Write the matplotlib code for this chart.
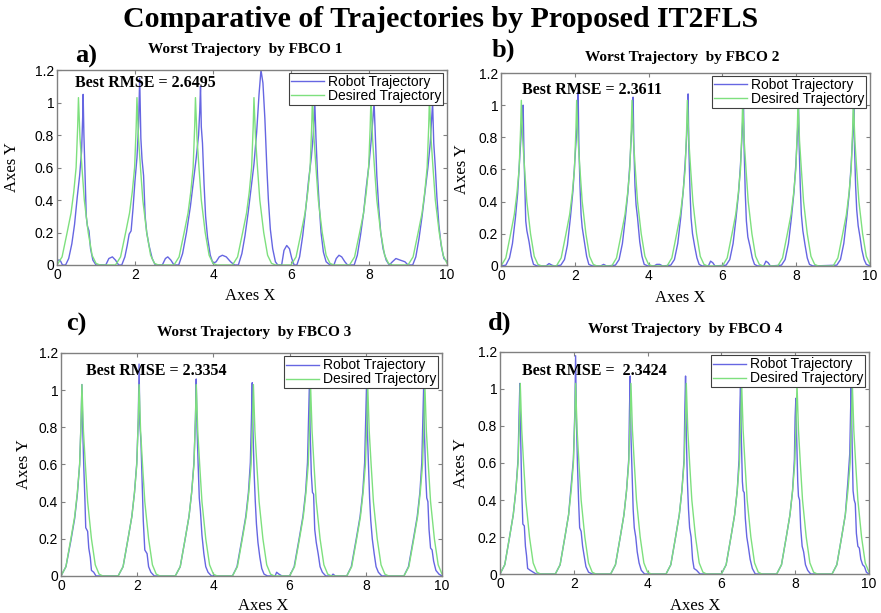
import numpy as np
import matplotlib
matplotlib.use('Agg')
from matplotlib import pyplot as plt
from matplotlib.ticker import FuncFormatter

SERIF = 'Liberation Serif'
SANS = 'Liberation Sans'

MAIN_TITLE = 'Comparative of Trajectories by Proposed IT2FLS'
LETTERS = ['a)', 'b)', 'c)', 'd)']
PANEL_TITLES = ['Worst Trajectory  by FBCO 1', 'Worst Trajectory  by FBCO 2',
                'Worst Trajectory  by FBCO 3', 'Worst Trajectory  by FBCO 4']
RMSE_LABELS = ['Best RMSE = 2.6495', 'Best RMSE = 2.3611',
               'Best RMSE = 2.3354', 'Best RMSE =  2.3424']
LEGEND_LABELS = ['Robot Trajectory', 'Desired Trajectory']
X_TICKS = [0, 2, 4, 6, 8, 10]
Y_TICKS = [0, 0.2, 0.4, 0.6, 0.8, 1.0, 1.2]

# desired trajectory (same in all four panels)
DESIRED = [
    (0.00, 0.00), (0.13, 0.05), (0.26, 0.20), (0.36, 0.32), (0.43, 0.45), (0.49, 0.60), (0.53, 0.85),
    (0.55, 1.03), (0.59, 0.78), (0.64, 0.60), (0.70, 0.40), (0.80, 0.20), (0.90, 0.06), (1.00, 0.01), (1.10, 0.00),
    (1.50, 0.00), (1.63, 0.05), (1.76, 0.20), (1.86, 0.32), (1.93, 0.45), (1.99, 0.60), (2.03, 0.85),
    (2.05, 1.03), (2.09, 0.78), (2.14, 0.60), (2.20, 0.40), (2.30, 0.20), (2.40, 0.06), (2.50, 0.01), (2.60, 0.00),
    (3.00, 0.00), (3.13, 0.05), (3.26, 0.20), (3.36, 0.32), (3.43, 0.45), (3.49, 0.60), (3.53, 0.85),
    (3.55, 1.03), (3.59, 0.78), (3.64, 0.60), (3.70, 0.40), (3.80, 0.20), (3.90, 0.06), (4.00, 0.01), (4.10, 0.00),
    (4.50, 0.00), (4.63, 0.05), (4.76, 0.20), (4.86, 0.32), (4.93, 0.45), (4.99, 0.60), (5.03, 0.85),
    (5.05, 1.03), (5.09, 0.78), (5.14, 0.60), (5.20, 0.40), (5.30, 0.20), (5.40, 0.06), (5.50, 0.01), (5.60, 0.00),
    (6.00, 0.00), (6.13, 0.05), (6.26, 0.20), (6.36, 0.32), (6.43, 0.45), (6.49, 0.60), (6.53, 0.85),
    (6.55, 1.03), (6.59, 0.78), (6.64, 0.60), (6.70, 0.40), (6.80, 0.20), (6.90, 0.06), (7.00, 0.01), (7.10, 0.00),
    (7.50, 0.00), (7.63, 0.05), (7.76, 0.20), (7.86, 0.32), (7.93, 0.45), (7.99, 0.60), (8.03, 0.85),
    (8.05, 1.03), (8.09, 0.78), (8.14, 0.60), (8.20, 0.40), (8.30, 0.20), (8.40, 0.06), (8.50, 0.01), (8.60, 0.00),
    (9.00, 0.00), (9.13, 0.05), (9.26, 0.20), (9.36, 0.32), (9.43, 0.45), (9.49, 0.60), (9.53, 0.85),
    (9.55, 1.03), (9.59, 0.78), (9.64, 0.60), (9.70, 0.40), (9.80, 0.20), (9.90, 0.06), (10.00, 0.01), (10.10, 0.00),
]

ROBOT_A = [
    (0.00, 0.03), (0.08, 0.03), (0.14, 0.00), (0.22, 0.00), (0.30, 0.04), (0.38, 0.13), (0.45, 0.25),
    (0.52, 0.42), (0.58, 0.55), (0.63, 0.70), (0.66, 0.92), (0.67, 1.05), (0.69, 0.80), (0.72, 0.55),
    (0.75, 0.30), (0.78, 0.24), (0.82, 0.21), (0.86, 0.10), (0.92, 0.03), (1.00, 0.00), (1.25, 0.00),
    (1.33, 0.04), (1.42, 0.05), (1.50, 0.03), (1.58, 0.00), (1.66, 0.00), (1.74, 0.05), (1.80, 0.12),
    (1.85, 0.19), (1.90, 0.21), (1.95, 0.35), (2.00, 0.52), (2.05, 0.66), (2.09, 0.85), (2.12, 1.15),
    (2.15, 0.78), (2.18, 0.65), (2.22, 0.55), (2.26, 0.30), (2.30, 0.20), (2.36, 0.12), (2.44, 0.04),
    (2.52, 0.00), (2.70, 0.00), (2.78, 0.04), (2.84, 0.05), (2.92, 0.03), (3.00, 0.00), (3.12, 0.00),
    (3.22, 0.07), (3.32, 0.20), (3.42, 0.36), (3.50, 0.52), (3.57, 0.66), (3.63, 0.80), (3.66, 0.95),
    (3.68, 1.10), (3.70, 0.85), (3.73, 0.75), (3.77, 0.50), (3.81, 0.30), (3.86, 0.17), (3.93, 0.06),
    (4.00, 0.01), (4.08, 0.02), (4.16, 0.05), (4.24, 0.06), (4.34, 0.05), (4.45, 0.02), (4.55, 0.00),
    (4.65, 0.00), (4.74, 0.07), (4.82, 0.18), (4.90, 0.32), (4.98, 0.48), (5.05, 0.62), (5.12, 0.82),
    (5.18, 1.05), (5.23, 1.20), (5.28, 1.12), (5.33, 0.90), (5.38, 0.60), (5.42, 0.40), (5.47, 0.22),
    (5.53, 0.10), (5.60, 0.02), (5.66, 0.00), (5.76, 0.00), (5.82, 0.09), (5.89, 0.12), (5.96, 0.10),
    (6.02, 0.04), (6.08, 0.00), (6.15, 0.00), (6.22, 0.05), (6.30, 0.18), (6.38, 0.35), (6.45, 0.52),
    (6.52, 0.66), (6.57, 0.80), (6.61, 1.00), (6.64, 0.78), (6.68, 0.55), (6.72, 0.38), (6.77, 0.20),
    (6.83, 0.08), (6.90, 0.02), (7.00, 0.00), (7.10, 0.00), (7.16, 0.04), (7.23, 0.06), (7.30, 0.05),
    (7.38, 0.02), (7.45, 0.00), (7.62, 0.00), (7.70, 0.06), (7.78, 0.18), (7.86, 0.32), (7.93, 0.48),
    (8.00, 0.62), (8.06, 0.78), (8.10, 0.90), (8.13, 1.00), (8.16, 0.80), (8.20, 0.55), (8.25, 0.35),
    (8.30, 0.20), (8.36, 0.10), (8.44, 0.03), (8.52, 0.00), (8.60, 0.02), (8.69, 0.04), (8.80, 0.03),
    (8.92, 0.02), (9.00, 0.00), (9.12, 0.00), (9.20, 0.05), (9.28, 0.16), (9.36, 0.30), (9.44, 0.46),
    (9.51, 0.60), (9.57, 0.75), (9.61, 0.92), (9.63, 1.00), (9.66, 0.75), (9.70, 0.60), (9.74, 0.42),
    (9.79, 0.25), (9.85, 0.12), (9.92, 0.04), (10.00, 0.02),
]

ROBOT_B = [
    (0.00, 0.00), (0.13, 0.005), (0.23, 0.05), (0.31, 0.14), (0.39, 0.30), (0.45, 0.45), (0.50, 0.65),
    (0.54, 0.80), (0.57, 0.92), (0.60, 1.00), (0.62, 0.72), (0.645, 0.50), (0.67, 0.28), (0.70, 0.22),
    (0.76, 0.15), (0.82, 0.06), (0.88, 0.01), (0.98, 0.00), (1.22, 0.00), (1.30, 0.015), (1.38, 0.005),
    (1.45, 0.00), (1.62, 0.005), (1.72, 0.04), (1.80, 0.13), (1.88, 0.30), (1.95, 0.47), (2.00, 0.65),
    (2.04, 0.80), (2.07, 0.92), (2.09, 1.08), (2.11, 0.75), (2.14, 0.50), (2.17, 0.32), (2.20, 0.24),
    (2.26, 0.15), (2.32, 0.06), (2.38, 0.01), (2.48, 0.00), (2.70, 0.00), (2.78, 0.01), (2.86, 0.00),
    (3.10, 0.005), (3.20, 0.04), (3.29, 0.14), (3.37, 0.30), (3.44, 0.46), (3.49, 0.63), (3.53, 0.80),
    (3.56, 0.90), (3.58, 1.05), (3.60, 0.75), (3.63, 0.50), (3.66, 0.38), (3.70, 0.30), (3.76, 0.15),
    (3.82, 0.06), (3.88, 0.01), (3.98, 0.00), (4.15, 0.00), (4.22, 0.01), (4.30, 0.01), (4.38, 0.00),
    (4.60, 0.005), (4.70, 0.04), (4.79, 0.14), (4.87, 0.30), (4.94, 0.47), (4.99, 0.64), (5.03, 0.80),
    (5.05, 0.90), (5.07, 1.07), (5.09, 0.75), (5.12, 0.48), (5.15, 0.30), (5.19, 0.20), (5.25, 0.12),
    (5.31, 0.05), (5.37, 0.01), (5.45, 0.00), (5.62, 0.00), (5.68, 0.03), (5.74, 0.02), (5.80, 0.00),
    (6.10, 0.005), (6.20, 0.04), (6.29, 0.14), (6.37, 0.30), (6.44, 0.46), (6.49, 0.63), (6.53, 0.80),
    (6.55, 0.90), (6.57, 1.05), (6.59, 0.72), (6.62, 0.45), (6.65, 0.28), (6.69, 0.18), (6.75, 0.12),
    (6.81, 0.05), (6.87, 0.01), (6.95, 0.00), (7.12, 0.00), (7.18, 0.03), (7.24, 0.02), (7.30, 0.00),
    (7.60, 0.005), (7.70, 0.04), (7.79, 0.14), (7.87, 0.30), (7.94, 0.46), (7.99, 0.63), (8.03, 0.80),
    (8.05, 0.92), (8.06, 1.04), (8.08, 0.75), (8.11, 0.50), (8.14, 0.32), (8.18, 0.22), (8.24, 0.13),
    (8.30, 0.05), (8.36, 0.01), (8.45, 0.00), (9.10, 0.005), (9.20, 0.04), (9.29, 0.14), (9.37, 0.30),
    (9.44, 0.46), (9.49, 0.63), (9.53, 0.80), (9.55, 0.92), (9.56, 1.04), (9.58, 0.75), (9.61, 0.50),
    (9.64, 0.35), (9.68, 0.25), (9.73, 0.18), (9.78, 0.10), (9.84, 0.04), (9.90, 0.01), (10.00, 0.00),
]

ROBOT_C = [
    (0.00, 0.00), (0.13, 0.05), (0.26, 0.19), (0.36, 0.31), (0.43, 0.44), (0.49, 0.60), (0.53, 0.84),
    (0.55, 1.03), (0.57, 0.80), (0.60, 0.58), (0.63, 0.40), (0.65, 0.26), (0.70, 0.24), (0.73, 0.15),
    (0.77, 0.10), (0.80, 0.03), (0.86, 0.02), (0.92, 0.00),
    (1.50, 0.00), (1.63, 0.05), (1.76, 0.20), (1.86, 0.32), (1.93, 0.45), (1.99, 0.61), (2.03, 0.85),
    (2.05, 1.14), (2.07, 0.82), (2.10, 0.72), (2.13, 0.50), (2.16, 0.30), (2.20, 0.14), (2.26, 0.12),
    (2.30, 0.05), (2.36, 0.02), (2.45, 0.00),
    (3.00, 0.00), (3.13, 0.05), (3.26, 0.20), (3.36, 0.32), (3.43, 0.45), (3.49, 0.61), (3.53, 0.85),
    (3.55, 1.06), (3.57, 0.80), (3.60, 0.60), (3.63, 0.42), (3.66, 0.35), (3.70, 0.22), (3.75, 0.12),
    (3.80, 0.05), (3.86, 0.02), (3.95, 0.00),
    (4.50, 0.00), (4.62, 0.05), (4.75, 0.20), (4.85, 0.32), (4.92, 0.45), (4.97, 0.61), (5.00, 0.85),
    (5.02, 1.04), (5.04, 0.78), (5.07, 0.55), (5.10, 0.40), (5.13, 0.28), (5.17, 0.18), (5.22, 0.10),
    (5.27, 0.04), (5.33, 0.01), (5.42, 0.00), (5.62, 0.00), (5.66, 0.02), (5.72, 0.01), (5.80, 0.00),
    (6.00, 0.00), (6.12, 0.05), (6.25, 0.20), (6.35, 0.32), (6.42, 0.45), (6.47, 0.61), (6.50, 0.85),
    (6.52, 1.03), (6.54, 0.78), (6.57, 0.55), (6.60, 0.45), (6.63, 0.44), (6.66, 0.25), (6.70, 0.18),
    (6.75, 0.12), (6.80, 0.05), (6.86, 0.02), (6.95, 0.00), (7.10, 0.00), (7.14, 0.01), (7.20, 0.00),
    (7.50, 0.00), (7.62, 0.05), (7.75, 0.20), (7.85, 0.32), (7.92, 0.45), (7.97, 0.61), (8.00, 0.85),
    (8.02, 1.03), (8.04, 0.80), (8.07, 0.60), (8.10, 0.42), (8.13, 0.30), (8.17, 0.20), (8.22, 0.12),
    (8.27, 0.05), (8.33, 0.02), (8.42, 0.00),
    (9.00, 0.00), (9.12, 0.05), (9.25, 0.20), (9.35, 0.32), (9.42, 0.45), (9.47, 0.61), (9.50, 0.85),
    (9.52, 1.03), (9.54, 0.77), (9.57, 0.55), (9.60, 0.42), (9.63, 0.40), (9.66, 0.25), (9.70, 0.15),
    (9.74, 0.14), (9.78, 0.08), (9.84, 0.03), (9.92, 0.01), (10.00, 0.00),
]

ROBOT_D = [
    (0.00, 0.00), (0.13, 0.05), (0.26, 0.20), (0.36, 0.32), (0.43, 0.45), (0.49, 0.62), (0.52, 0.88),
    (0.54, 1.03), (0.56, 0.75), (0.59, 0.45), (0.62, 0.27), (0.66, 0.26), (0.69, 0.15), (0.72, 0.10),
    (0.75, 0.03), (0.82, 0.02), (0.90, 0.01), (0.98, 0.00),
    (1.50, 0.00), (1.63, 0.05), (1.76, 0.20), (1.86, 0.32), (1.93, 0.48), (1.99, 0.62), (2.03, 0.88),
    (2.05, 1.18), (2.07, 0.85), (2.10, 0.60), (2.13, 0.40), (2.16, 0.25), (2.20, 0.23), (2.24, 0.15),
    (2.28, 0.10), (2.33, 0.04), (2.40, 0.01), (2.50, 0.00),
    (3.00, 0.00), (3.13, 0.05), (3.26, 0.20), (3.36, 0.32), (3.43, 0.45), (3.49, 0.62), (3.51, 0.88),
    (3.53, 1.07), (3.55, 0.75), (3.58, 0.55), (3.61, 0.35), (3.64, 0.25), (3.68, 0.20), (3.72, 0.12),
    (3.77, 0.06), (3.83, 0.02), (3.92, 0.00),
    (4.50, 0.00), (4.63, 0.05), (4.76, 0.20), (4.86, 0.32), (4.93, 0.45), (4.99, 0.62), (5.01, 0.88),
    (5.03, 1.07), (5.05, 0.75), (5.08, 0.50), (5.11, 0.35), (5.14, 0.25), (5.18, 0.20), (5.22, 0.08),
    (5.26, 0.03), (5.33, 0.02), (5.42, 0.00),
    (6.00, 0.00), (6.13, 0.05), (6.26, 0.20), (6.36, 0.32), (6.43, 0.45), (6.48, 0.62), (6.50, 0.88),
    (6.52, 1.03), (6.54, 0.75), (6.57, 0.50), (6.59, 0.45), (6.62, 0.44), (6.65, 0.30), (6.69, 0.20),
    (6.73, 0.15), (6.78, 0.08), (6.84, 0.03), (6.92, 0.00),
    (7.50, 0.00), (7.63, 0.05), (7.76, 0.20), (7.86, 0.32), (7.93, 0.45), (7.98, 0.62), (8.00, 0.85),
    (8.02, 0.95), (8.04, 0.75), (8.07, 0.50), (8.09, 0.42), (8.12, 0.40), (8.15, 0.25), (8.19, 0.15),
    (8.23, 0.12), (8.28, 0.05), (8.34, 0.02), (8.42, 0.00),
    (9.00, 0.00), (9.13, 0.05), (9.26, 0.20), (9.36, 0.32), (9.43, 0.50), (9.48, 0.65), (9.50, 0.85),
    (9.52, 1.03), (9.54, 0.75), (9.57, 0.45), (9.60, 0.40), (9.63, 0.38), (9.66, 0.22), (9.70, 0.15),
    (9.74, 0.14), (9.78, 0.08), (9.83, 0.05), (9.88, 0.04), (9.93, 0.01), (10.00, 0.00),
]

ROBOTS = [ROBOT_A, ROBOT_B, ROBOT_C, ROBOT_D]

ROBOT_COLOR = '#6666e2'
DESIRED_COLOR = '#7ee07e'
FRAME_COLOR = '#808080'

# axes boxes in figure fraction [left, bottom, width, height]
AX_POS = [[0.0647, 0.5677, 0.4427, 0.3181],
          [0.5687, 0.5661, 0.4188, 0.3148],
          [0.0692, 0.0604, 0.4325, 0.3638],
          [0.5675, 0.0636, 0.4188, 0.3622]]
LETTER_POS = [(0.0976, 0.9086), (0.571, 0.918), (0.0863, 0.470), (0.5675, 0.473)]
TITLE_POS = [(0.2787, 0.920), (0.774, 0.907), (0.288, 0.457), (0.778, 0.462)]
RMSE_POS = [(0.046, 0.934), (0.057, 0.912), (0.066, 0.919), (0.060, 0.914)]
YLABEL_POS = [-0.095, -0.084, -0.076, -0.084]
XLABEL_POS = [(0.495, -0.118), (0.485, -0.124), (0.53, -0.099), (0.53, -0.108)]

fig = plt.figure(figsize=(8.81, 6.13), dpi=100)
fig.text(0.5, 0.969, MAIN_TITLE, ha='center', va='center',
         fontsize=21.5, fontweight='bold', family=SERIF)

desired = np.array(DESIRED).T
fmt = FuncFormatter(lambda v, p: '%g' % v)

for i in range(4):
    ax = fig.add_axes(AX_POS[i])
    robot = np.array(ROBOTS[i]).T
    l1, = ax.plot(robot[0], robot[1], color=ROBOT_COLOR, lw=1.0)
    l2, = ax.plot(desired[0], desired[1], color=DESIRED_COLOR, lw=1.0)
    ax.set_xlim(0, 10)
    ax.set_ylim(0, 1.2)
    ax.set_xticks(X_TICKS)
    ax.set_yticks(Y_TICKS)
    ax.xaxis.set_major_formatter(fmt)
    ax.yaxis.set_major_formatter(fmt)
    ax.tick_params(direction='in', length=3, width=0.8, color=FRAME_COLOR,
                   top=True, right=True, labelsize=10, pad=2)
    for lab in ax.get_xticklabels() + ax.get_yticklabels():
        lab.set_family(SANS)
    for sp in ax.spines.values():
        sp.set_color(FRAME_COLOR)
        sp.set_linewidth(1.0)

    ax.set_xlabel('Axes X', family=SERIF, fontsize=12)
    ax.set_ylabel('Axes Y', family=SERIF, fontsize=12)
    ax.xaxis.set_label_coords(*XLABEL_POS[i])
    ax.yaxis.set_label_coords(YLABEL_POS[i], 0.5)

    ax.text(RMSE_POS[i][0], RMSE_POS[i][1], RMSE_LABELS[i], transform=ax.transAxes,
            ha='left', va='center', fontsize=11.5, fontweight='bold', family=SERIF)

    leg = ax.legend([l1, l2], LEGEND_LABELS, loc='upper right', bbox_to_anchor=(0.99, 0.985),
                    borderaxespad=0, fancybox=False, framealpha=1, edgecolor='#404040',
                    prop={'family': SANS, 'size': 10}, labelspacing=0.0, borderpad=0.15,
                    handlelength=2.4, handletextpad=0.25)
    leg.get_frame().set_linewidth(0.8)

    fig.text(TITLE_POS[i][0], TITLE_POS[i][1], PANEL_TITLES[i], ha='center', va='center',
             fontsize=11, fontweight='bold', family=SERIF)
    fig.text(LETTER_POS[i][0], LETTER_POS[i][1], LETTERS[i], ha='center', va='center',
             fontsize=19, fontweight='bold', family=SERIF)

fig.savefig('out.png', dpi=100)
